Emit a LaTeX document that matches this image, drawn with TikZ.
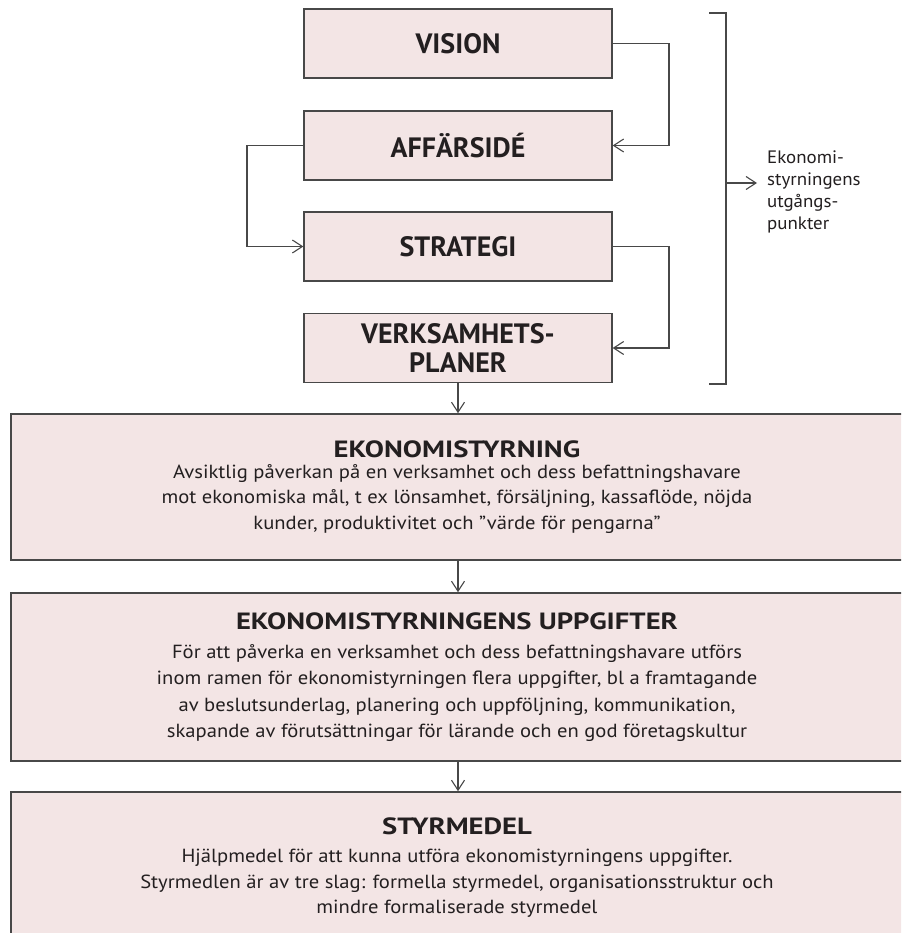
\documentclass[tikz,border=0pt]{standalone}
\usepackage{fontspec}
\setmainfont{PT Sans}
\newfontfamily\titlefont[FakeStretch=1.22]{PT Sans}
\newfontfamily\bodyfont[FakeStretch=1.085]{PT Sans}
\newfontfamily\sidefont[FakeStretch=1.05]{PT Sans}
\usetikzlibrary{arrows.meta}
\definecolor{boxfill}{RGB}{243,229,229}
\definecolor{edge}{RGB}{72,72,72}
\definecolor{ink}{RGB}{35,31,32}
\begin{document}
\begin{tikzpicture}[x=1pt,y=-1pt,
  topbox/.style={draw=edge, line width=1.3pt, fill=boxfill, minimum width=308pt,
    minimum height=69pt, inner sep=0pt, text=ink, align=center,
    font=\fontsize{28}{29}\selectfont\bfseries},
  bigbox/.style={draw=edge, line width=1.6pt, fill=boxfill, inner sep=0pt, minimum width=892pt},
  bigtitle/.style={inner sep=0pt, text=ink, font=\titlefont\fontsize{23.5}{25}\selectfont\bfseries},
  bodytext/.style={inner sep=0pt, text=ink, align=center},
  conn/.style={draw=edge, line width=1.1pt, -{Straight Barb[length=10pt,width=13pt]}},
  plainline/.style={draw=edge, line width=1.1pt},
  sidetext/.style={inner sep=0pt, text=ink, align=left, font=\sidefont\fontsize{18}{22}\selectfont}
]
\useasboundingbox (0,0) rectangle (901,933);
\fill[white] (0,0) rectangle (901,933);

% top boxes
\node[topbox] (vis) at (458,43.5) {VISION};
\node[topbox] (aff) at (458,145.5) {AFFÄRSIDÉ};
\node[topbox] (str) at (458,246.5) {STRATEGI};
\node[topbox] (ver) at (458,348) {VERKSAMHETS-\\PLANER};

% connectors between top boxes
\coordinate (c1) at (669,43.5);
\coordinate (c2) at (669,145.5);
\draw[conn] (vis.east) -- (c1) -- (c2) -- (aff.east);
\coordinate (c3) at (247,145.5);
\coordinate (c4) at (247,246.5);
\draw[conn] (aff.west) -- (c3) -- (c4) -- (str.west);
\coordinate (c5) at (669,246.5);
\coordinate (c6) at (669,348);
\draw[conn] (str.east) -- (c5) -- (c6) -- (ver.east);

% bracket
\coordinate (b1) at (709,13);
\coordinate (b2) at (726,13);
\coordinate (b3) at (726,384);
\coordinate (b4) at (709,384);
\draw[plainline] (b1) -- (b2) -- (b3) -- (b4);
\coordinate (bm) at (726,183);
\node[sidetext, anchor=west] (side) at (767,192) {Ekonomi-\\styrningens\\utgångs-\\punkter};
\coordinate (be) at (757,183);
\draw[conn] (bm) -- (be);

% big boxes
\begin{scope}
\clip (0,0) rectangle (901,933);
\node[bigbox, minimum height=146pt] (ek) at (457,487) {};
\node[bigbox, minimum height=168pt] (upp) at (457,677) {};
\node[bigbox, minimum height=153pt] (sty) at (457,868.5) {};
\end{scope}

\node[bigtitle] (ekt) at (457,449) {EKONOMISTYRNING};
\node[bodytext, font=\bodyfont\fontsize{19}{25.5}\selectfont] (ekb) at (457,499) {Avsiktlig påverkan på en verksamhet och dess befattningshavare\\mot ekonomiska mål, t ex lönsamhet, försäljning, kassaflöde, nöjda\\kunder, produktivitet och ”värde för pengarna”};

\node[bigtitle] (uppt) at (457,621) {EKONOMISTYRNINGENS UPPGIFTER};
\node[bodytext, font=\bodyfont\fontsize{19}{26.5}\selectfont] (uppb) at (457,693) {För att påverka en verksamhet och dess befattningshavare utförs\\inom ramen för ekonomistyrningen flera uppgifter, bl a framtagande\\av beslutsunderlag, planering och uppföljning, kommunikation,\\skapande av förutsättningar för lärande och en god företagskultur};

\node[bigtitle] (styt) at (457,826) {STYRMEDEL};
\node[bodytext, font=\bodyfont\fontsize{19}{25.5}\selectfont] (styb) at (457,883.5) {Hjälpmedel för att kunna utföra ekonomistyrningens uppgifter.\\Styrmedlen är av tre slag: formella styrmedel, organisationsstruktur och\\mindre formaliserade styrmedel};

% vertical arrows
\draw[conn] (ver.south) -- (ek.north -| ver.south);
\draw[conn] (ek.south -| ver.south) -- (upp.north -| ver.south);
\draw[conn] (upp.south -| ver.south) -- (sty.north -| ver.south);
\end{tikzpicture}
\end{document}
